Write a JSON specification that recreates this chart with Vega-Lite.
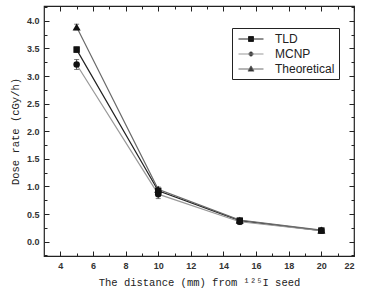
{
  "$schema": "https://vega.github.io/schema/vega-lite/v6.json",
  "width": 310,
  "height": 250,
  "autosize": {"type": "none"},
  "padding": {"left": 44, "top": 6, "right": 13, "bottom": 39},
  "background": "white",
  "config": {
    "view": {"stroke": "#222", "strokeWidth": 1.2},
    "axis": {
      "domain": false,
      "grid": false,
      "tickColor": "#222",
      "tickWidth": 1,
      "labelFont": "Liberation Sans",
      "labelFontSize": 9,
      "labelFontWeight": "bold",
      "labelColor": "#333",
      "titleFont": "Liberation Mono",
      "titleFontSize": 10.5,
      "titleFontWeight": "normal",
      "titleColor": "#222"
    }
  },
  "data": {
    "values": [
      {"d": 5, "series": "TLD", "dose": 3.48, "lo": 3.43, "hi": 3.53},
      {"d": 10, "series": "TLD", "dose": 0.92, "lo": 0.85, "hi": 0.99},
      {"d": 15, "series": "TLD", "dose": 0.38, "lo": 0.33, "hi": 0.43},
      {"d": 20, "series": "TLD", "dose": 0.2, "lo": 0.17, "hi": 0.23},
      {"d": 5, "series": "MCNP", "dose": 3.21, "lo": 3.12, "hi": 3.3},
      {"d": 10, "series": "MCNP", "dose": 0.86, "lo": 0.78, "hi": 0.94},
      {"d": 15, "series": "MCNP", "dose": 0.36, "lo": 0.31, "hi": 0.41},
      {"d": 20, "series": "MCNP", "dose": 0.2, "lo": 0.17, "hi": 0.23},
      {"d": 5, "series": "Theoretical", "dose": 3.89, "lo": 3.84, "hi": 3.94},
      {"d": 10, "series": "Theoretical", "dose": 0.95, "lo": 0.95, "hi": 0.95},
      {"d": 15, "series": "Theoretical", "dose": 0.39, "lo": 0.39, "hi": 0.39},
      {"d": 20, "series": "Theoretical", "dose": 0.21, "lo": 0.21, "hi": 0.21}
    ]
  },
  "resolve": {"axis": {"x": "independent", "y": "independent"}},
  "layer": [
    {
      "mark": {"type": "line", "strokeWidth": 1.2},
      "encoding": {
        "x": {
          "field": "d", "type": "quantitative",
          "scale": {"domain": [3, 22], "nice": false, "zero": false},
          "axis": {
            "orient": "bottom",
            "values": [4,5,6,7,8,9,10,11,12,13,14,15,16,17,18,19,20,21,22],
            "labelExpr": "datum.value % 2 === 0 ? datum.label : ''",
            "tickSize": {"condition": {"test": "datum.value % 2 === 0", "value": -5}, "value": -3},
            "labelPadding": 10,
            "title": "The distance (mm) from ¹²⁵I seed",
            "titlePadding": 7
          }
        },
        "y": {
          "field": "dose", "type": "quantitative",
          "scale": {"domain": [-0.26, 4.27], "nice": false, "zero": false},
          "axis": {
            "orient": "left",
            "values": [-0.25, 0, 0.25, 0.5, 0.75, 1, 1.25, 1.5, 1.75, 2, 2.25, 2.5, 2.75, 3, 3.25, 3.5, 3.75, 4, 4.25],
            "labelExpr": "(datum.value * 2) % 1 === 0 ? format(datum.value, '.1f') : ''",
            "tickSize": {"condition": {"test": "(datum.value * 2) % 1 === 0", "value": -5}, "value": -3},
            "labelPadding": 10,
            "title": "Dose rate (cGy/h)",
            "titlePadding": 6
          }
        },
        "color": {
          "field": "series", "type": "nominal",
          "scale": {"domain": ["TLD", "MCNP", "Theoretical"], "range": ["#222222", "#999999", "#6a6a6a"]},
          "legend": {
            "title": null,
            "orient": "none",
            "legendX": 188,
            "legendY": 22,
            "strokeColor": "#222",
            "padding": 4,
            "rowPadding": 2,
            "symbolSize": 156,
            "symbolOffset": 8,
            "symbolStrokeWidth": 1,
            "labelFont": "Liberation Sans",
            "labelFontSize": 12,
            "labelColor": "#222",
            "labelOffset": 17,
            "encode": {
              "symbols": {
                "update": {
                  "shape": {"signal": "datum.value === 'TLD' ? 'M-2,0H2M-0.4,-0.4H0.4V0.4H-0.4Z' : datum.value === 'MCNP' ? 'M-2,0H2M-0.36,0A0.36,0.36,0,1,1,0.36,0A0.36,0.36,0,1,1,-0.36,0Z' : 'M-2,0H2M0,-0.5L0.48,0.34H-0.48Z'"},
                  "stroke": {"signal": "datum.value === 'MCNP' ? '#888' : '#222'"},
                  "fill": {"value": "#111"},
                  "fillOpacity": {"value": 1},
                  "strokeOpacity": {"value": 1},
                  "opacity": {"value": 1},
                  "size": {"value": 156},
                  "strokeWidth": {"value": 1}
                }
              }
            }
          }
        }
      }
    },
    {
      "mark": {"type": "errorbar", "ticks": {"size": 5, "color": "#444"}, "rule": {"color": "#444"}},
      "encoding": {
        "x": {"field": "d", "type": "quantitative", "axis": {"orient": "top", "values": [4,5,6,7,8,9,10,11,12,13,14,15,16,17,18,19,20,21,22], "labels": false, "tickSize": {"condition": {"test": "datum.value % 2 === 0", "value": -5}, "value": -3}, "title": null}},
        "y": {"field": "lo", "type": "quantitative", "axis": {"orient": "right", "values": [-0.25, 0, 0.25, 0.5, 0.75, 1, 1.25, 1.5, 1.75, 2, 2.25, 2.5, 2.75, 3, 3.25, 3.5, 3.75, 4, 4.25], "labels": false, "tickSize": {"condition": {"test": "(datum.value * 2) % 1 === 0", "value": -5}, "value": -3}, "title": null}},
        "y2": {"field": "hi"}
      }
    },
    {
      "transform": [{"filter": "datum.series === 'TLD'"}],
      "mark": {"type": "point", "filled": true, "opacity": 1, "color": "#111", "shape": "square", "size": 42},
      "encoding": {
        "x": {"field": "d", "type": "quantitative", "axis": null},
        "y": {"field": "dose", "type": "quantitative", "axis": null}
      }
    },
    {
      "transform": [{"filter": "datum.series === 'MCNP'"}],
      "mark": {"type": "point", "filled": true, "opacity": 1, "color": "#111", "shape": "circle", "size": 42},
      "encoding": {
        "x": {"field": "d", "type": "quantitative", "axis": null},
        "y": {"field": "dose", "type": "quantitative", "axis": null}
      }
    },
    {
      "transform": [{"filter": "datum.series === 'Theoretical'"}],
      "mark": {"type": "point", "filled": true, "opacity": 1, "color": "#111", "shape": "triangle-up", "size": 65},
      "encoding": {
        "x": {"field": "d", "type": "quantitative", "axis": null},
        "y": {"field": "dose", "type": "quantitative", "axis": null}
      }
    }
  ]
}
